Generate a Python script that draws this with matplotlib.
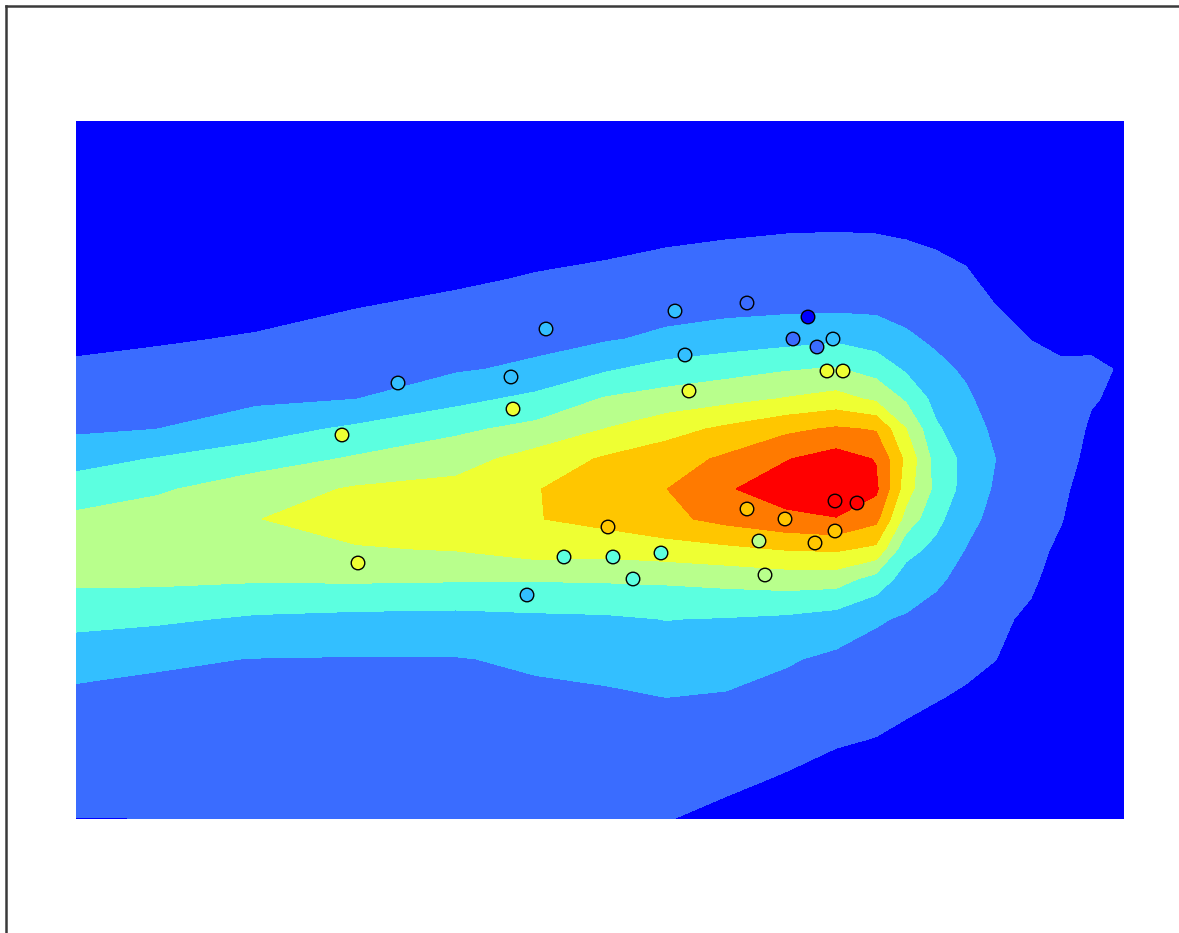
import numpy as np
import matplotlib
matplotlib.use("Agg")
import matplotlib.pyplot as plt
from matplotlib.lines import Line2D

# grid positions of the density field (arbitrary units)
grid_x = [0, 8, 18, 28, 38, 46, 53, 59, 65, 71, 76, 80, 83, 86, 89, 92, 95.5, 98.5, 101.5, 104.8]
grid_y = [0, 4, 8, 12, 16, 20, 24, 27, 30, 33, 36, 39, 42, 45, 48, 51, 54, 58, 63, 69.8]

# density values, one list per grid_x column, listed bottom to top
density_cols = [
    [0.99, 1.27, 1.54, 1.81, 2.30, 3.34, 4.19, 4.60, 4.20, 3.48, 2.64, 1.84, 1.48, 1.13, 0.81, 0.51, 0.21, 0, 0, 0],
    [0.995, 1.26, 1.51, 1.77, 2.11, 3.17, 4.20, 4.73, 4.50, 3.85, 3.05, 1.99, 1.62, 1.26, 0.91, 0.61, 0.31, 0, 0, 0],
    [1.00, 1.25, 1.49, 1.73, 1.98, 2.86, 4.11, 4.85, 4.97, 4.55, 3.53, 2.58, 1.81, 1.44, 1.07, 0.76, 0.46, 0.06, 0, 0],
    [1.03, 1.26, 1.49, 1.72, 1.95, 2.73, 4.15, 4.92, 5.45, 5.10, 4.12, 3.19, 1.99, 1.66, 1.33, 1.00, 0.70, 0.30, 0, 0],
    [1.15, 1.35, 1.55, 1.76, 1.96, 2.68, 4.10, 5.06, 5.68, 5.30, 4.60, 3.81, 2.71, 1.89, 1.55, 1.20, 0.88, 0.48, 0, 0],
    [1.22, 1.42, 1.63, 1.83, 2.12, 2.80, 4.08, 5.50, 5.96, 5.96, 5.40, 4.29, 3.26, 2.18, 1.72, 1.39, 1.06, 0.70, 0.20, 0],
    [1.40, 1.56, 1.73, 1.89, 2.22, 2.86, 4.12, 5.40, 6.30, 6.45, 6.13, 5.02, 4.09, 2.88, 1.91, 1.55, 1.20, 0.77, 0.27, 0],
    [1.03, 1.35, 1.67, 1.98, 2.49, 3.02, 4.17, 5.58, 6.75, 6.98, 6.55, 5.63, 4.41, 3.36, 2.19, 1.71, 1.35, 0.90, 0.40, 0],
    [0.78, 1.17, 1.53, 1.90, 2.40, 2.95, 4.32, 5.79, 7.30, 7.90, 7.17, 6.19, 4.70, 3.63, 2.44, 1.79, 1.45, 0.99, 0.50, 0],
    [0.53, 0.93, 1.31, 1.68, 2.09, 2.82, 4.48, 6.06, 7.75, 8.50, 7.95, 6.78, 5.06, 3.91, 2.65, 1.85, 1.51, 1.05, 0.55, 0],
    [0.30, 0.70, 1.09, 1.46, 1.82, 2.55, 4.45, 6.15, 7.95, 8.75, 8.45, 7.13, 5.35, 4.08, 2.83, 1.87, 1.53, 1.07, 0.55, 0],
    [0.18, 0.58, 0.98, 1.33, 1.68, 2.09, 3.61, 5.78, 7.27, 8.20, 7.95, 6.92, 4.83, 3.59, 2.55, 1.85, 1.51, 1.05, 0.55, 0],
    [0.02, 0.41, 0.81, 1.19, 1.54, 1.90, 2.57, 3.33, 4.61, 5.46, 5.76, 5.02, 3.86, 2.86, 2.14, 1.74, 1.42, 0.99, 0.50, 0],
    [0, 0.24, 0.64, 1.03, 1.37, 1.71, 2.13, 2.75, 3.27, 3.73, 3.60, 3.14, 2.68, 2.22, 1.85, 1.56, 1.28, 0.89, 0.39, 0],
    [0, 0.08, 0.48, 0.88, 1.20, 1.48, 1.76, 1.97, 2.29, 2.63, 2.74, 2.44, 2.14, 1.87, 1.62, 1.37, 1.12, 0.74, 0.24, 0],
    [0, 0, 0.21, 0.61, 1.01, 1.20, 1.40, 1.56, 1.71, 1.86, 1.99, 1.80, 1.61, 1.41, 1.22, 1.03, 0.74, 0.34, 0, 0],
    [0, 0, 0, 0.01, 0.41, 0.81, 1.18, 1.28, 1.35, 1.49, 1.62, 1.62, 1.41, 1.20, 0.99, 0.69, 0.39, 0, 0, 0],
    [0, 0, 0, 0, 0, 0.13, 0.53, 0.83, 1.05, 1.17, 1.29, 1.41, 1.31, 1.10, 0.85, 0.55, 0.25, 0, 0, 0],
    [0, 0, 0, 0, 0, 0, 0, 0.10, 0.35, 0.60, 0.80, 0.90, 1.06, 1.12, 0.85, 0.55, 0.25, 0, 0, 0],
    [0, 0, 0, 0, 0, 0, 0, 0, 0, 0, 0.20, 0.50, 0.84, 0.94, 0.60, 0.30, 0, 0, 0, 0],
]

# sample points and the band each one falls in
pts_x = [73.2, 67.1, 59.9, 47.0, 71.7, 74.1, 75.7, 60.9, 75.1, 76.7,
         61.3, 43.5, 43.7, 32.2, 26.6, 28.2, 67.1, 70.9, 75.9, 78.1,
         75.9, 73.9, 68.3, 68.9, 53.2, 48.8, 53.7, 58.5, 55.7, 45.1]
pts_y = [50.2, 51.6, 50.8, 49.0, 48.0, 47.2, 48.0, 46.4, 44.8, 44.8,
         42.8, 44.2, 41.0, 43.6, 38.4, 25.6, 31.0, 30.0, 31.8, 31.6,
         28.8, 27.6, 27.8, 24.4, 29.2, 26.2, 26.2, 26.6, 24.0, 22.4]
pts_band = [0, 1, 2, 2, 1, 1, 2, 2, 5, 5,
            5, 2, 5, 2, 5, 5, 6, 6, 8, 8,
            6, 6, 4, 4, 6, 3, 3, 3, 3, 2]

levels = [-0.5, 1, 2, 3, 4, 5, 6, 7, 8, 10]
band_colors = ['#0000ff', '#3a6cff', '#33bfff', '#5cffe0', '#b8ff8c',
               '#eeff33', '#ffc600', '#ff7a00', '#ff0000']

fig = plt.figure(figsize=(11.79, 9.33), dpi=100)
ax = fig.add_axes([76 / 1179, 114 / 933, 1048 / 1179, 698 / 933])

Z = np.array(density_cols).T
ax.contourf(grid_x, grid_y, Z, levels=levels, colors=band_colors, antialiased=False)

ax.scatter(pts_x, pts_y, s=95, c=[band_colors[b] for b in pts_band],
           edgecolors='black', linewidths=1.0, zorder=3)

ax.set_xlim(0, 104.8)
ax.set_ylim(0, 69.8)
ax.set_axis_off()

# window frame along the top and left
fig.add_artist(Line2D([6 / 1179, 6 / 1179], [0, 1 - 5.5 / 933], transform=fig.transFigure,
                      color='#3a3a3a', linewidth=1.8))
fig.add_artist(Line2D([6 / 1179, 1], [1 - 5.5 / 933, 1 - 5.5 / 933], transform=fig.transFigure,
                      color='#3a3a3a', linewidth=1.8))

fig.savefig('out.png', dpi=100, facecolor='white')
